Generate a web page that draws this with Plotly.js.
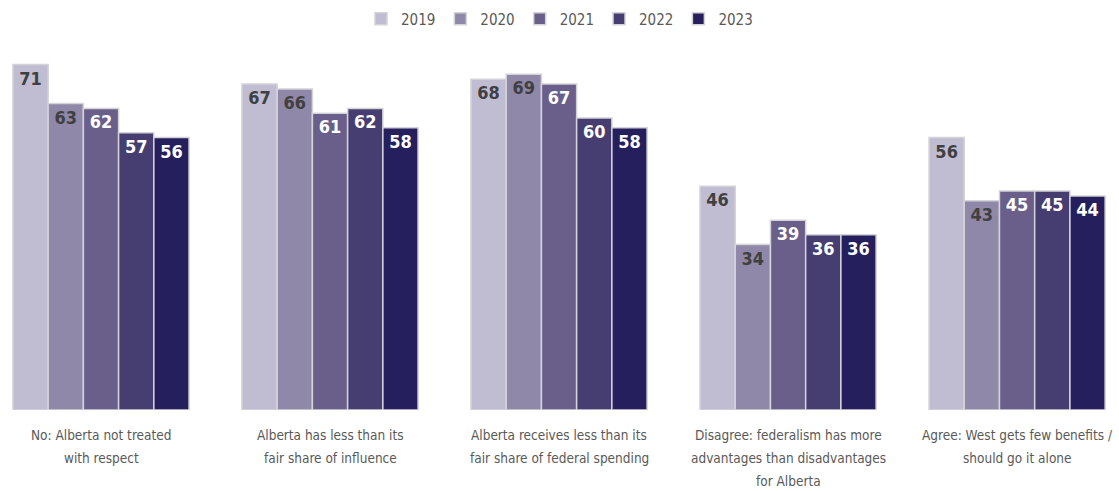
<!DOCTYPE html>
<html><head><meta charset="utf-8">
<script src="https://cdn.plot.ly/plotly-3.0.1.min.js"></script>
<style>html,body{margin:0;padding:0;background:#fff}#chart{width:1119px;height:491px}</style>
</head><body><div id="chart"></div>
<script>
const categories = [
  "No: Alberta not treated<br>with respect",
  "Alberta has less than its<br>fair share of influence",
  "Alberta receives less than its<br>fair share of federal spending",
  "Disagree: federalism has more<br>advantages than disadvantages<br>for Alberta",
  "Agree: West gets few benefits /<br>should go it alone"
];
const years = ["2019", "2020", "2021", "2022", "2023"];
const v2019 = [71, 67, 68, 46, 56];
const v2020 = [63, 66, 69, 34, 43];
const v2021 = [62, 61, 67, 39, 45];
const v2022 = [57, 62, 60, 36, 45];
const v2023 = [56, 58, 58, 36, 44];
const seriesValues = [v2019, v2020, v2021, v2022, v2023];
const colors = ["#c0bdd3", "#8f88a8", "#6a5f8a", "#463d70", "#251f5e"];
const labelColors = ["#404040", "#404040", "#ffffff", "#ffffff", "#ffffff"];
const FONT = "'DejaVu Sans Condensed','DejaVu Sans',sans-serif";

const xIdx = categories.map((c, i) => i);
const traces = years.map((y, k) => ({
  type: "bar",
  name: y,
  x: xIdx,
  y: seriesValues[k],
  text: seriesValues[k].map(String),
  textposition: "inside",
  insidetextanchor: "end",
  textangle: 0,
  textfont: {family: FONT, size: 18, color: labelColors[k], weight: "bold"},
  marker: {color: colors[k], line: {color: "#d4d4d8", width: 1.5}},
  hoverinfo: "x+y"
}));

const annotations = [];
categories.forEach((c, i) => {
  c.split("<br>").forEach((line, j) => {
    annotations.push({
      x: i, xref: "x", y: 0, yref: "paper", yanchor: "middle", xanchor: "center",
      yshift: -25 - 23 * j, showarrow: false, text: line,
      font: {family: FONT, size: 13.5, color: "#595959"}
    });
  });
});

const layout = {
  width: 1119, height: 491,
  margin: {l: 0, r: 0, t: 50, b: 81},
  paper_bgcolor: "#ffffff", plot_bgcolor: "#ffffff",
  barmode: "group", bargap: 0.231, bargroupgap: 0,
  showlegend: true,
  legend: {orientation: "h", x: 0.5, xanchor: "center", y: 0.995, yref: "container", yanchor: "top",
           font: {family: FONT, size: 15, color: "#595959"}, traceorder: "normal"},
  xaxis: {
    type: "linear", range: [-0.441, 4.445],
    showticklabels: false,
    showgrid: false, zeroline: false, showline: false, ticks: ""
  },
  yaxis: {range: [0, 74], visible: false, showgrid: false, zeroline: false, fixedrange: true},
  annotations: annotations
};

Plotly.newPlot("chart", traces, layout, {displayModeBar: false, staticPlot: true});
</script></body></html>
